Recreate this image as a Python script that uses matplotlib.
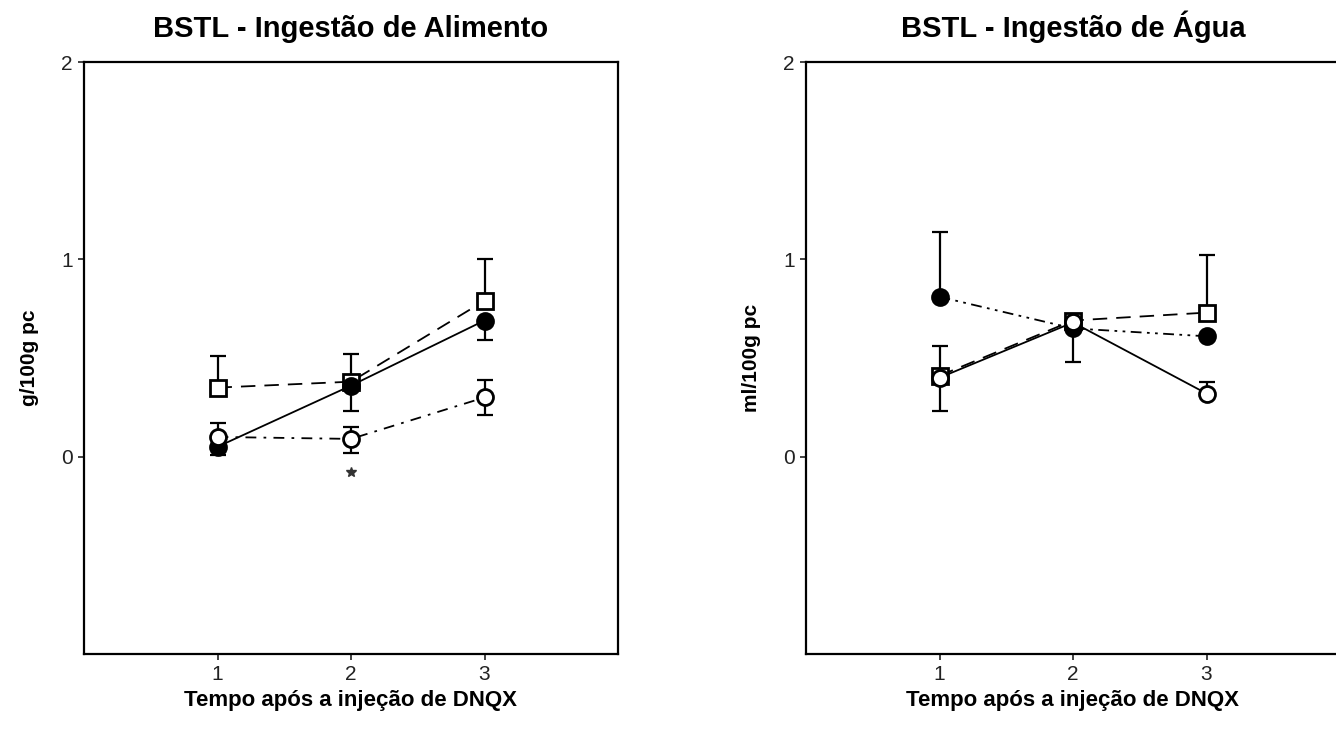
import matplotlib
matplotlib.use("Agg")
import matplotlib.pyplot as plt

plt.rcParams['font.family'] = ['Liberation Sans', 'DejaVu Sans']

x = [1, 2, 3]
xticks = [1, 2, 3]
yticks = [0, 1, 2]

# Left panel: food intake (g/100g pc)
food_sq = [0.35, 0.38, 0.79]
food_sq_lo = [0.0, 0.0, 0.0]
food_sq_hi = [0.16, 0.14, 0.21]
food_fc = [0.05, 0.36, 0.69]
food_fc_lo = [0.04, 0.13, 0.10]
food_fc_hi = [0.0, 0.0, 0.0]
food_oc = [0.10, 0.09, 0.30]
food_oc_lo = [0.0, 0.07, 0.09]
food_oc_hi = [0.07, 0.06, 0.09]
food_star_x = [2]
food_star_y = [-0.08]

# Right panel: water intake (ml/100g pc)
water_sq = [0.41, 0.69, 0.73]
water_sq_lo = [0.0, 0.0, 0.0]
water_sq_hi = [0.15, 0.0, 0.29]
water_fc = [0.81, 0.65, 0.61]
water_fc_lo = [0.0, 0.17, 0.0]
water_fc_hi = [0.33, 0.0, 0.0]
water_oc = [0.40, 0.68, 0.32]
water_oc_lo = [0.17, 0.0, 0.0]
water_oc_hi = [0.0, 0.0, 0.06]

fig = plt.figure(figsize=(13.36, 7.29), dpi=100)
axL = fig.add_axes([84/1336, 75/729, 534/1336, 592/729])
axR = fig.add_axes([806/1336, 75/729, 534/1336, 592/729])

ms = 11.5
cap = 6
elw = 1.6


def series(ax, y, lo, hi, marker, face, ls):
    ax.errorbar(x, y, yerr=[lo, hi], fmt='none', ecolor='black', elinewidth=elw,
                capsize=cap, capthick=elw, zorder=2)
    ax.plot(x, y, linestyle=ls, color='black', linewidth=1.3, zorder=3)
    ax.plot(x, y, linestyle='none', marker=marker, markersize=ms,
            markerfacecolor=face, markeredgecolor='black', markeredgewidth=2.0, zorder=4)


series(axL, food_sq, food_sq_lo, food_sq_hi, 's', 'white', (0, (8, 5)))
series(axL, food_fc, food_fc_lo, food_fc_hi, 'o', 'black', '-')
series(axL, food_oc, food_oc_lo, food_oc_hi, 'o', 'white', (0, (6, 4, 1.5, 4)))
axL.plot(food_star_x, food_star_y, linestyle='none', marker='*', markersize=7,
         color='#333333', zorder=4)

series(axR, water_fc, water_fc_lo, water_fc_hi, 'o', 'black', (0, (6, 3, 1.5, 3, 1.5, 3)))
series(axR, water_sq, water_sq_lo, water_sq_hi, 's', 'white', (0, (8, 5)))
series(axR, water_oc, water_oc_lo, water_oc_hi, 'o', 'white', '-')

titles = ['BSTL - Ingestão de Alimento', 'BSTL - Ingestão de Água']
ylabels = ['g/100g pc', 'ml/100g pc']
for ax, t, yl in zip([axL, axR], titles, ylabels):
    ax.set_xlim(0, 4)
    ax.set_ylim(-1, 2)
    ax.set_xticks(xticks)
    ax.set_yticks(yticks)
    ax.tick_params(axis='both', direction='out', length=4, width=1.2,
                   labelsize=15, pad=4, colors='#222222')
    for s in ax.spines.values():
        s.set_linewidth(1.6)
    ax.set_title(t, fontsize=21, fontweight='bold', pad=18)
    ax.set_xlabel('Tempo após a injeção de DNQX', fontsize=16, fontweight='bold', labelpad=4)
    ax.set_ylabel(yl, fontsize=15, fontweight='bold', labelpad=16)

fig.savefig('out.png', dpi=100)
